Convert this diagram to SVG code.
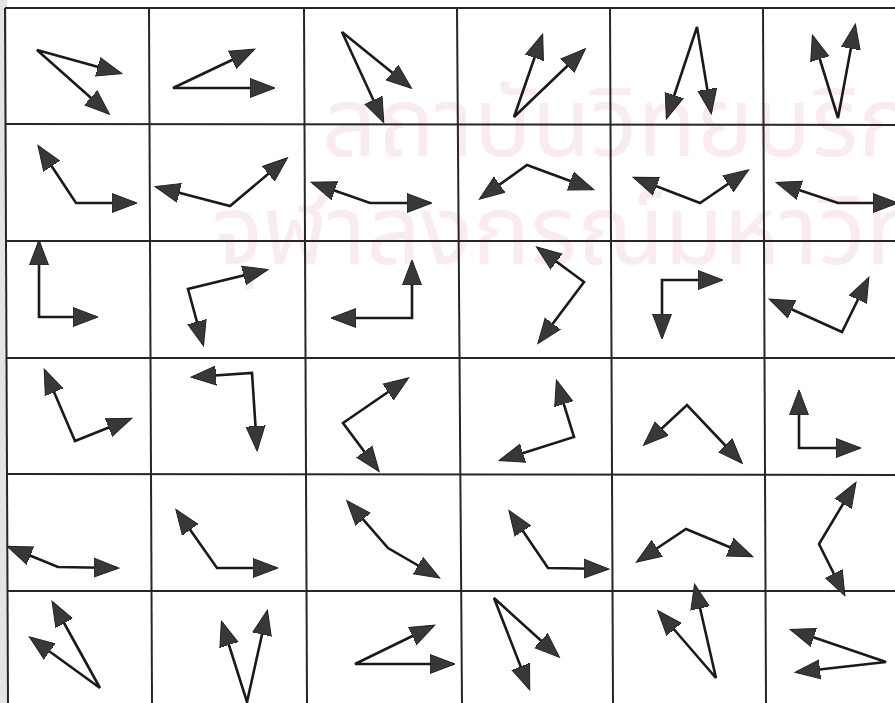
<svg xmlns="http://www.w3.org/2000/svg" width="895" height="703" viewBox="0 0 895 703">
<style>
.grid line{stroke:#262626;stroke-width:2}
.arr{fill:none;stroke:#1a1a1a;stroke-width:2.6;stroke-linejoin:miter;marker-start:url(#ah);marker-end:url(#ah)}
.wm{font-family:"Noto Sans Thai","Noto Sans","DejaVu Sans",sans-serif;font-size:96px;fill:#f9ebf0}
</style>
<defs>
<marker id="ah" markerUnits="userSpaceOnUse" markerWidth="26" markerHeight="22" viewBox="0 0 26 22" refX="23" refY="11" orient="auto-start-reverse">
<path d="M0,1.5 L25,11 L0,20.5 Z" fill="#383838" stroke="#222" stroke-width="1"/>
</marker>
</defs>
<rect width="895" height="703" fill="#ffffff"/>
<rect x="0" y="0" width="7" height="703" fill="#e4e4e4"/>
<g id="watermark">
<text class="wm" x="322" y="156">สถาบันวิทยบริการ</text>
<text class="wm" x="212" y="264">จุฬาลงกรณ์มหาวิทยาลัย</text>
</g>
<g class="grid" id="grid">
<line x1="5" y1="8" x2="895" y2="8"/>
<line x1="5" y1="124" x2="895" y2="125"/>
<line x1="6" y1="241" x2="895" y2="241"/>
<line x1="6" y1="358" x2="895" y2="358"/>
<line x1="7" y1="474" x2="895" y2="475"/>
<line x1="7" y1="591" x2="895" y2="591"/>
<line x1="5" y1="8" x2="8" y2="703"/>
<line x1="149" y1="8" x2="152" y2="703"/>
<line x1="304" y1="8" x2="307" y2="703"/>
<line x1="457" y1="8" x2="462" y2="703"/>
<line x1="610" y1="8" x2="613" y2="703"/>
<line x1="763" y1="8" x2="766" y2="703"/>
</g>
<g id="arrows">
<g id="c11"><polyline class="arr" points="120,73 37,50 108,113"/></g>
<g id="c12"><polyline class="arr" points="253,50 173,88 273,88"/></g>
<g id="c13"><polyline class="arr" points="410,87 342,32 383,121"/></g>
<g id="c14"><polyline class="arr" points="542,36 514,117 584,50"/></g>
<g id="c15"><polyline class="arr" points="667,117 697,27 711,112"/></g>
<g id="c16"><polyline class="arr" points="813,37 838,118 855,26"/></g>

<g id="c21"><polyline class="arr" points="39,147 76,203 135,203"/></g>
<g id="c22"><polyline class="arr" points="157,187 230,206 286,159"/></g>
<g id="c23"><polyline class="arr" points="313,183 370,203 430,203"/></g>
<g id="c24"><polyline class="arr" points="481,198 527,165 592,189"/></g>
<g id="c25"><polyline class="arr" points="635,178 700,203 747,171"/></g>
<g id="c26"><polyline class="arr" points="778,183 838,203 896,203"/></g>

<g id="c31"><polyline class="arr" points="39,242 39,317 96,317"/></g>
<g id="c32"><polyline class="arr" points="266,270 188,289 203,344"/></g>
<g id="c33"><polyline class="arr" points="412,262 412,318 333,318"/></g>
<g id="c34"><polyline class="arr" points="538,248 584,282 539,342"/></g>
<g id="c35"><polyline class="arr" points="721,280 662,280 662,337"/></g>
<g id="c36"><polyline class="arr" points="771,300 842,332 868,279"/></g>

<g id="c41"><polyline class="arr" points="45,371 75,441 130,419"/></g>
<g id="c42"><polyline class="arr" points="193,377 252,373 257,449"/></g>
<g id="c43"><polyline class="arr" points="407,379 343,423 378,470"/></g>
<g id="c44"><polyline class="arr" points="557,382 574,437 501,460"/></g>
<g id="c45"><polyline class="arr" points="645,444 687,405 741,462"/></g>
<g id="c46"><polyline class="arr" points="799,392 799,448 859,448"/></g>

<g id="c51"><polyline class="arr" points="9,547 58,567 117,568"/></g>
<g id="c52"><polyline class="arr" points="177,511 217,568 276,568"/></g>
<g id="c53"><polyline class="arr" points="348,502 388,548 438,577"/></g>
<g id="c54"><polyline class="arr" points="510,512 548,568 607,569"/></g>
<g id="c55"><polyline class="arr" points="638,561 686,529 751,556"/></g>
<g id="c56"><polyline class="arr" points="855,484 819,544 844,594"/></g>

<g id="c61"><polyline class="arr" points="53,603 100,688 31,638"/></g>
<g id="c62"><polyline class="arr" points="222,623 247,702 267,612"/></g>
<g id="c63"><polyline class="arr" points="433,626 355,664 453,664"/></g>
<g id="c64"><polyline class="arr" points="558,656 494,598 529,688"/></g>
<g id="c65"><polyline class="arr" points="659,612 716,678 695,586"/></g>
<g id="c66"><polyline class="arr" points="792,630 886,662 797,672"/></g>
</g>
</svg>
